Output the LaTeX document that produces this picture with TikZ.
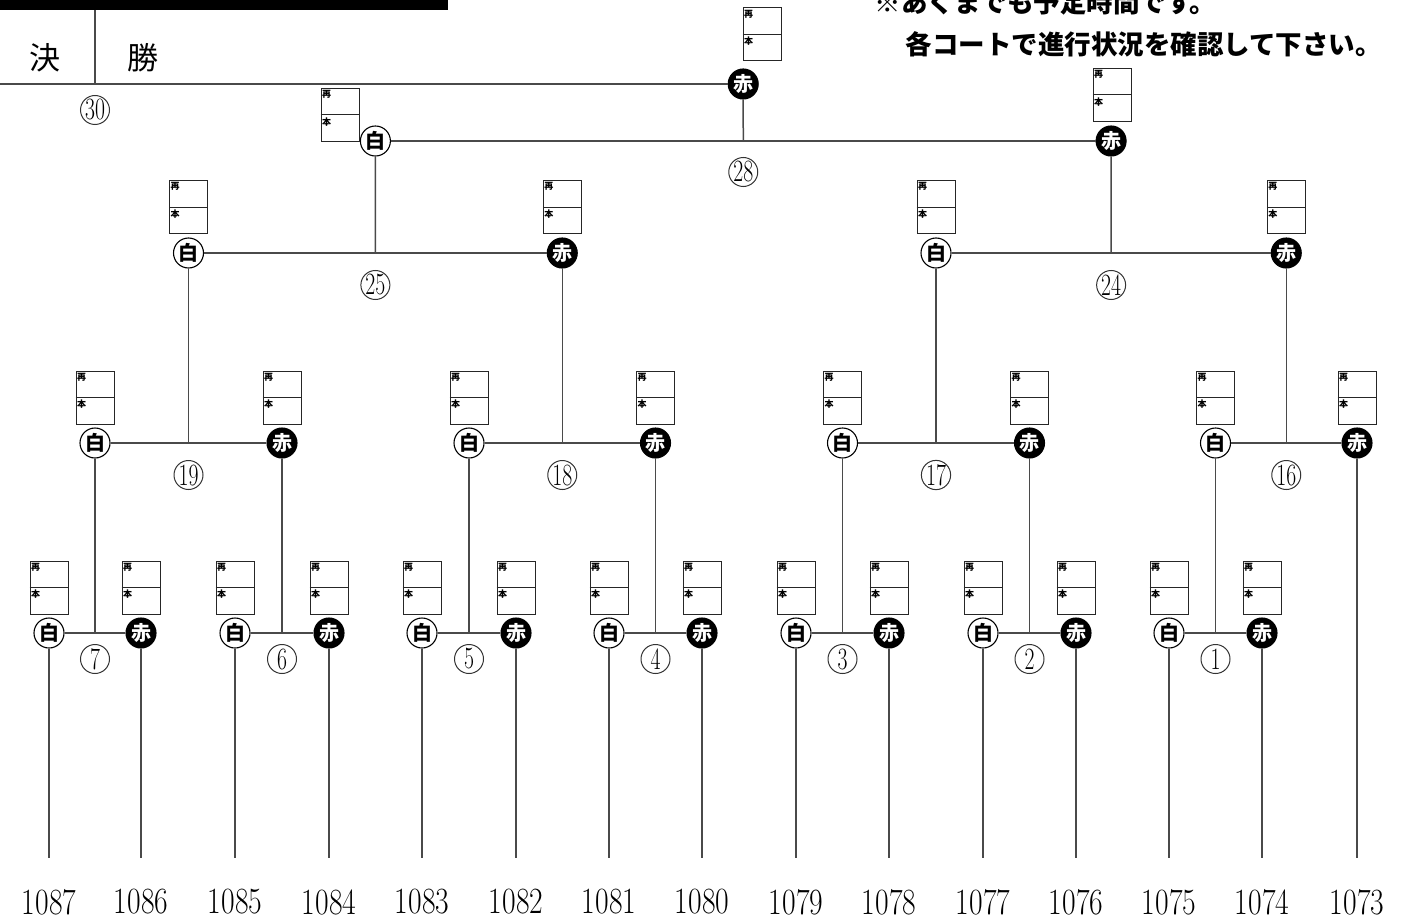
\documentclass[tikz,border=0pt]{standalone}
\usepackage{graphicx}
\usepackage{fontspec}
\newfontfamily\cjk{Noto Sans CJK JP}
\usetikzlibrary{calc}
\definecolor{lc}{HTML}{4A4A4A}
\tikzset{
 conn/.style={draw=lc, line width=1.5pt},
 shiro/.style={circle, draw=black, fill=white, line width=1.1pt, minimum size=30pt, inner sep=0pt, font=\cjk\bfseries\fontsize{20}{20}\selectfont},
 aka/.style={circle, draw=black, fill=black, text=white, line width=1.1pt, minimum size=30pt, inner sep=0pt, font=\cjk\bfseries\fontsize{20}{20}\selectfont},
 mno/.style={circle, draw=black!80, line width=1pt, minimum size=29pt, inner sep=0pt, font=\fontsize{31}{31}\selectfont},
 sbox/.style={rectangle, draw=black!85, line width=1pt, minimum width=38pt, minimum height=53pt, inner sep=0pt},
 stag/.style={anchor=north west, inner sep=0.5pt, font=\cjk\bfseries\fontsize{9}{9}\selectfont},
 leaf/.style={font=\fontsize{37}{37}\selectfont},
 ttl/.style={font=\cjk\fontsize{31}{31}\selectfont},
 note/.style={anchor=west, font=\cjk\bfseries\fontsize{26.5}{26.5}\selectfont},
}
\newcommand{\sbx}[3]{%
 \node[sbox] (#1) at (#2,#3) {};
 \draw[black!85, line width=1pt] (#1.west) -- (#1.east);
 \node[stag] (#1-a) at ($(#1.north west)+(1,2)$) {再};
 \node[stag] (#1-b) at ($(#1.west)+(1,2)$) {本};
}
\newcommand{\cn}[1]{\scalebox{0.7}[1]{#1}}
\begin{document}
\begin{tikzpicture}[x=1pt,y=-1pt]
\useasboundingbox (0,0) rectangle (1423,920);
% header
\fill[black] (0,0) rectangle (448,10);
\node[note] (n1) at (871,3) {※あくまでも予定時間です。};
\node[note] (n2) at (902,44) {各コートで進行状況を確認して下さい。};
\node[ttl] (k1) at (45,58) {決};
\node[ttl] (k2) at (143,58) {勝};
\coordinate (vt) at (95,10);
\coordinate (vb) at (95,84);
\draw[conn] (vt) -- (vb);
\node[mno] (n30) at (95,110) {\cn{30}};
% round 1
\foreach \i/\a/\b/\lab/\la/\lb in {1/49/141/7/1087/1086, 2/235/329/6/1085/1084, 3/422/516/5/1083/1082, 4/609/702/4/1081/1080, 5/796/889/3/1079/1078, 6/983/1076/2/1077/1076, 7/1169/1262/1/1075/1074}{
 \node[shiro] (wA\i) at (\a,633) {白};
 \node[aka] (rA\i) at (\b,633) {赤};
 \sbx{bwA\i}{\a}{587.5}
 \sbx{brA\i}{\b}{587.5}
 \coordinate (mA\i) at ($(wA\i)!0.5!(rA\i)$);
 \node[mno] (nA\i) at ($(mA\i)+(0,26)$) {\cn{\lab}};
 \node[leaf] (tw\i) at (\a,902) {\scalebox{0.8}[1]{\la}};
 \node[leaf] (tr\i) at (\b,902) {\scalebox{0.8}[1]{\lb}};
 \coordinate (ew\i) at (\a,858);
 \coordinate (er\i) at (\b,858);
 \draw[conn] (wA\i) -- (rA\i);
 \draw[conn] (wA\i) -- (ew\i);
 \draw[conn] (rA\i) -- (er\i);
}
\node[leaf] (t8) at (1357,902) {\scalebox{0.8}[1]{1073}};
\coordinate (e8) at (1357,858);
% round 2
\foreach \i/\a/\b/\lab in {1/95/282/19, 2/469/655.5/18, 3/842.5/1029.5/17, 4/1215.5/1357/16}{
 \node[shiro] (wB\i) at (\a,443) {白};
 \node[aka] (rB\i) at (\b,443) {赤};
 \sbx{bwB\i}{\a}{397.5}
 \sbx{brB\i}{\b}{397.5}
 \coordinate (mB\i) at ($(wB\i)!0.5!(rB\i)$);
 \node[mno] (nB\i) at ($(mB\i)+(0,32)$) {\cn{\lab}};
 \draw[conn] (wB\i) -- (rB\i);
}
\draw[conn] (mA1) -- (wB1);
\draw[conn] (mA2) -- (rB1);
\draw[conn] (mA3) -- (wB2);
\draw[conn] (mA4) -- (rB2);
\draw[conn] (mA5) -- (wB3);
\draw[conn] (mA6) -- (rB3);
\draw[conn] (mA7) -- (wB4);
\draw[conn] (rB4) -- (e8);
% round 3
\foreach \i/\a/\b/\lab in {1/188.5/562.25/25, 2/936/1286.25/24}{
 \node[shiro] (wC\i) at (\a,253) {白};
 \node[aka] (rC\i) at (\b,253) {赤};
 \sbx{bwC\i}{\a}{207}
 \sbx{brC\i}{\b}{207}
 \coordinate (mC\i) at ($(wC\i)!0.5!(rC\i)$);
 \node[mno] (nC\i) at ($(mC\i)+(0,32)$) {\cn{\lab}};
 \draw[conn] (wC\i) -- (rC\i);
}
\draw[conn] (mB1) -- (wC1);
\draw[conn] (mB2) -- (rC1);
\draw[conn] (mB3) -- (wC2);
\draw[conn] (mB4) -- (rC2);
% round 4
\node[shiro] (wD) at (375.4,141) {白};
\node[aka] (rD) at (1111.1,141) {赤};
\sbx{bwD}{340}{115}
\sbx{brD}{1112}{95}
\coordinate (mD) at ($(wD)!0.5!(rD)$);
\node[mno] (nD) at ($(mD)+(0,31)$) {\cn{28}};
\draw[conn] (wD) -- (rD);
\draw[conn] (mC1) -- (wD);
\draw[conn] (mC2) -- (rD);
% final
\node[aka] (rE) at (743.2,84) {赤};
\sbx{brE}{762}{34.5}
\coordinate (fl) at (0,84);
\draw[conn] (fl) -- (rE);
\draw[conn] (mD) -- (rE);
\end{tikzpicture}
\end{document}
